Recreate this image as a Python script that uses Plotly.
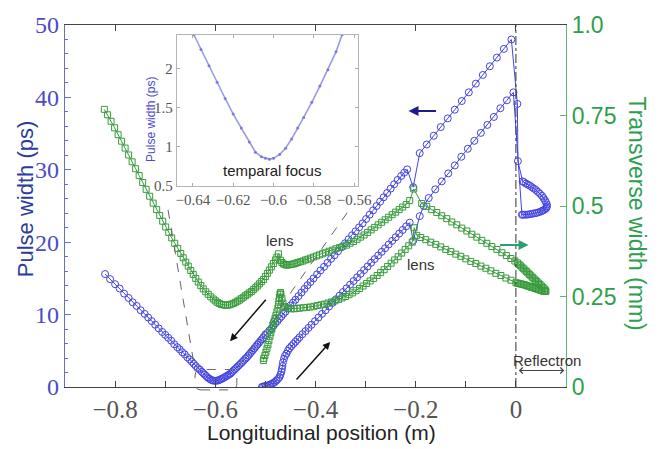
import plotly.graph_objects as go

# ---------------- data ----------------
# Pulse width (ps) - blue circles, left axis
pw_left_x = [-0.820,-0.810,-0.800,-0.791,-0.782,-0.773,-0.765,-0.757,-0.749,-0.741,-0.734,-0.727,-0.720,-0.713,-0.706,-0.700,-0.694,-0.688,-0.682,-0.676,-0.671,-0.666,-0.661,-0.656,-0.651,-0.647,-0.643,-0.639,-0.635,-0.631,-0.627,-0.624,-0.621,-0.618,-0.615,-0.612,-0.609,-0.606,-0.603,-0.600]
pw_left_y = [15.6,14.9,14.2,13.6,12.9,12.3,11.7,11.2,10.6,10.1,9.6,9.1,8.6,8.1,7.6,7.2,6.8,6.4,5.9,5.5,5.2,4.8,4.5,4.1,3.8,3.5,3.2,2.9,2.6,2.4,2.1,1.9,1.7,1.5,1.3,1.15,1.0,0.92,0.87,0.85]

pw_rise_x = [-0.597,-0.594,-0.591,-0.588,-0.585,-0.582,-0.579,-0.576,-0.573,-0.570,-0.567,-0.564,-0.561,-0.558,-0.555,-0.552,-0.549,-0.546,-0.543,-0.540,-0.537,-0.534,-0.531,-0.528,-0.525,-0.522,-0.519,-0.516,-0.513,-0.510,-0.507,-0.504,-0.500,-0.496,-0.492,-0.488,-0.484,-0.480,-0.476,-0.472,-0.468,-0.464,-0.460,-0.455,-0.450,-0.445,-0.440,-0.434,-0.428,-0.422,-0.416,-0.410,-0.404,-0.397,-0.390,-0.383,-0.376,-0.369,-0.362,-0.355,-0.348,-0.341,-0.334,-0.327,-0.320,-0.313,-0.306,-0.299,-0.292,-0.285,-0.278,-0.271,-0.264,-0.257,-0.250,-0.243,-0.236,-0.229,-0.223,-0.217]
pw_rise_y = [0.87,0.92,1.0,1.1,1.2,1.32,1.45,1.58,1.7,1.84,2.05,2.25,2.45,2.65,2.85,3.05,3.25,3.45,3.68,3.9,4.1,4.35,4.6,4.85,5.1,5.35,5.6,5.85,6.1,6.35,6.6,6.8,7.15,7.45,7.8,8.1,8.45,8.8,9.1,9.45,9.75,10.1,10.4,10.85,11.25,11.65,12.05,12.55,13.05,13.55,14.05,14.5,15.0,15.55,16.1,16.6,17.15,17.7,18.2,18.75,19.3,19.85,20.4,20.95,21.5,22.05,22.6,23.2,23.8,24.4,25.0,25.6,26.2,26.8,27.4,28.0,28.6,29.15,29.6,30.06]

pw_lens_x = [-0.205,-0.192]
pw_lens_y = [27.6,32.3]

pw_upper_x = [-0.178,-0.164,-0.150,-0.136,-0.122,-0.108,-0.094,-0.080,-0.066,-0.052,-0.038,-0.024,-0.009]
pw_upper_y = [33.5,34.7,35.9,37.1,38.3,39.5,40.7,41.9,43.1,44.3,45.5,46.7,48.0]

pw_refl_x = [0.003,0.004,0.0135,0.016,0.020,0.024,0.028,0.032,0.036,0.040,0.044,0.048,0.052,0.055,0.058,0.060,0.062,0.062,0.061,0.059,0.056,0.053,0.050,0.046,0.042,0.038,0.034,0.030,0.026,0.022,0.018,0.014,0.012]
pw_refl_y = [39.1,31.2,28.4,28.3,28.1,27.95,27.8,27.6,27.4,27.2,26.95,26.7,26.4,26.1,25.8,25.5,25.2,24.95,24.75,24.6,24.45,24.35,24.25,24.15,24.05,24.0,23.95,23.9,23.85,23.8,23.8,23.8,23.8]

pw_back_x = [-0.005,-0.018,-0.031,-0.044,-0.057,-0.070,-0.083,-0.096,-0.109,-0.122,-0.135,-0.148,-0.161,-0.174,-0.184,-0.192,-0.205,-0.212,-0.219,-0.226,-0.233,-0.240,-0.247,-0.254,-0.261,-0.268,-0.275,-0.282,-0.289,-0.296,-0.303,-0.310,-0.317,-0.324,-0.331,-0.338,-0.345,-0.352,-0.359,-0.366,-0.373,-0.380,-0.387,-0.394,-0.401,-0.408,-0.414,-0.420,-0.426,-0.432,-0.436,-0.440,-0.444,-0.448,-0.452,-0.455,-0.458,-0.461,-0.463,-0.465,-0.466,-0.467,-0.468,-0.470,-0.472,-0.475,-0.478,-0.481,-0.484,-0.487,-0.490,-0.493,-0.496,-0.499,-0.502,-0.505,-0.507]
pw_back_y = [40.7,39.6,38.5,37.3,36.2,35.1,34.0,32.9,31.8,30.6,29.5,28.4,27.3,26.1,25.0,23.6,20.2,22.7,22.2,21.69,21.19,20.68,20.18,19.68,19.17,18.67,18.16,17.66,17.16,16.65,16.15,15.64,15.14,14.64,14.13,13.63,13.12,12.62,12.12,11.61,11.11,10.6,10.1,9.6,9.09,8.59,8.16,7.72,7.29,6.86,6.55,6.25,5.95,5.65,5.35,5.0,4.6,4.3,3.9,3.4,2.9,2.5,2.1,1.7,1.35,1.1,0.9,0.7,0.55,0.45,0.35,0.25,0.2,0.15,0.1,0.05,0.0]

# Transverse width (mm) - green squares, right axis
tw_down_x = [-0.8215,-0.815,-0.808,-0.801,-0.794,-0.787,-0.780,-0.773,-0.766,-0.759,-0.752,-0.745,-0.738,-0.731,-0.724,-0.717,-0.711,-0.705,-0.699,-0.693,-0.687,-0.681,-0.675,-0.669,-0.664,-0.659,-0.654,-0.649,-0.644,-0.639,-0.634,-0.629,-0.624,-0.619,-0.614,-0.609,-0.604,-0.600,-0.596,-0.592,-0.588,-0.584,-0.580,-0.576,-0.572,-0.568,-0.564,-0.560,-0.556,-0.552,-0.548,-0.544,-0.540,-0.536,-0.532,-0.528,-0.524,-0.520,-0.516,-0.512,-0.508,-0.504,-0.500,-0.496,-0.492,-0.488,-0.484,-0.480,-0.477,-0.474]
tw_down_y = [0.767,0.752,0.734,0.716,0.697,0.679,0.660,0.641,0.622,0.603,0.584,0.565,0.546,0.527,0.508,0.490,0.474,0.458,0.442,0.427,0.412,0.397,0.383,0.369,0.357,0.345,0.334,0.322,0.311,0.300,0.290,0.280,0.271,0.263,0.256,0.249,0.243,0.238,0.234,0.231,0.228,0.227,0.226,0.226,0.227,0.229,0.231,0.234,0.237,0.240,0.244,0.248,0.252,0.256,0.260,0.264,0.269,0.274,0.279,0.285,0.291,0.297,0.305,0.314,0.323,0.332,0.341,0.351,0.359,0.368]

tw_mid_x = [-0.470,-0.467,-0.464,-0.461,-0.458,-0.455,-0.451,-0.447,-0.443,-0.439,-0.435,-0.430,-0.425,-0.420,-0.415,-0.410,-0.404,-0.398,-0.392,-0.386,-0.380,-0.373,-0.366,-0.359,-0.352,-0.345,-0.338,-0.331,-0.324,-0.317,-0.310,-0.303,-0.296,-0.289,-0.282,-0.275,-0.268,-0.261,-0.254,-0.247,-0.240,-0.233,-0.226,-0.219,-0.212,-0.204]
tw_mid_y = [0.350,0.344,0.340,0.338,0.337,0.337,0.338,0.339,0.340,0.342,0.344,0.346,0.348,0.351,0.353,0.356,0.359,0.362,0.365,0.368,0.371,0.375,0.378,0.382,0.385,0.389,0.392,0.397,0.402,0.408,0.414,0.420,0.427,0.434,0.441,0.448,0.455,0.462,0.469,0.476,0.483,0.490,0.497,0.504,0.515,0.547]

tw_fall_x = [-0.188,-0.178,-0.168,-0.158,-0.148,-0.138,-0.128,-0.118,-0.108,-0.098,-0.088,-0.078,-0.068,-0.058,-0.048,-0.038,-0.028,-0.019,-0.010,-0.002]
tw_fall_y = [0.507,0.499,0.490,0.482,0.473,0.465,0.456,0.448,0.439,0.431,0.422,0.414,0.405,0.397,0.388,0.380,0.371,0.363,0.355,0.348]

tw_refl_x = [0.003,0.006,0.009,0.012,0.015,0.018,0.021,0.024,0.027,0.030,0.033,0.036,0.039,0.042,0.045,0.048,0.051,0.054,0.057,0.059,0.060,
             0.057,0.054,0.051,0.048,0.045,0.042,0.039,0.036,0.033,0.030,0.027,0.024,0.021,0.018,0.015,0.012,0.009,0.006,0.003,0.000]
tw_refl_y = [0.343,0.339,0.335,0.331,0.327,0.323,0.319,0.315,0.311,0.307,0.303,0.299,0.295,0.291,0.287,0.283,0.279,0.275,0.271,0.267,0.264,
             0.264,0.265,0.267,0.268,0.269,0.271,0.272,0.274,0.275,0.276,0.278,0.279,0.280,0.282,0.283,0.284,0.285,0.286,0.287,0.288]

tw_back_x = [-0.010,-0.020,-0.030,-0.040,-0.050,-0.060,-0.070,-0.080,-0.090,-0.100,-0.110,-0.120,-0.130,-0.140,-0.150,-0.160,-0.170,-0.180,-0.190,-0.198,-0.203,-0.207,-0.214,-0.221,-0.228,-0.235,-0.242,-0.249,-0.256,-0.263,-0.270,-0.277,-0.284,-0.291,-0.298,-0.305,-0.312,-0.319,-0.326,-0.333,-0.340,-0.347,-0.354,-0.361,-0.368,-0.375,-0.382,-0.389,-0.396,-0.403,-0.410,-0.417,-0.424,-0.431,-0.437,-0.443,-0.449,-0.454,-0.459,-0.463,-0.465,-0.467,-0.469,-0.470,-0.471,-0.472,-0.473,-0.474,-0.475,-0.477,-0.479,-0.481,-0.483,-0.485,-0.487,-0.489,-0.491,-0.493,-0.495,-0.497,-0.499,-0.501,-0.503,-0.504]
tw_back_y = [0.295,0.301,0.308,0.314,0.321,0.328,0.334,0.341,0.347,0.354,0.361,0.367,0.374,0.380,0.387,0.394,0.400,0.407,0.413,0.419,0.440,0.400,0.390,0.380,0.370,0.360,0.351,0.342,0.333,0.324,0.316,0.308,0.300,0.293,0.286,0.279,0.272,0.266,0.260,0.255,0.250,0.246,0.242,0.238,0.235,0.232,0.229,0.227,0.225,0.223,0.221,0.220,0.219,0.218,0.217,0.216,0.216,0.217,0.219,0.222,0.232,0.245,0.256,0.261,0.257,0.248,0.238,0.228,0.218,0.208,0.198,0.189,0.180,0.170,0.160,0.150,0.140,0.128,0.117,0.106,0.096,0.087,0.079,0.073]

# Inset: pulse width near the temporal focus
inset_x = [-0.6395,-0.636,-0.632,-0.628,-0.624,-0.620,-0.616,-0.612,-0.609,-0.606,-0.604,-0.602,-0.600,-0.597,-0.594,-0.591,-0.588,-0.585,-0.581,-0.577,-0.573,-0.569,-0.566]
inset_y = [2.44,2.25,2.04,1.83,1.62,1.42,1.24,1.06,0.93,0.87,0.85,0.84,0.85,0.90,0.98,1.10,1.24,1.375,1.57,1.78,1.99,2.22,2.44]

# tick labels
y2_tickvals = [0, 0.25, 0.5, 0.75, 1.0]
y2_ticktext = ["0", "0.25", "0.5", "0.75", "1.0"]
inset_xtickvals = [-0.64, -0.62, -0.60, -0.58, -0.56]
inset_xticktext = ["\u22120.64", "\u22120.62", "\u22120.6", "\u22120.58", "\u22120.56"]
inset_ytickvals = [0.5, 1.0, 1.5, 2.0]
inset_yticktext = ["0.5", "1", "1.5", "2"]

# ---------------- styling ----------------
SANS = "Liberation Sans, Arial, sans-serif"
SERIF = "Liberation Serif, Times New Roman, serif"
BLUE = "#4343e2"
GREEN = "#389c3c"
AXBLUE = "#6a6ad0"
AXGREEN = "#5db47c"

pw_x = pw_left_x + pw_rise_x + pw_lens_x + pw_upper_x + pw_refl_x + pw_back_x
pw_y = pw_left_y + pw_rise_y + pw_lens_y + pw_upper_y + pw_refl_y + pw_back_y
tw_x = tw_down_x + tw_mid_x + tw_fall_x + tw_refl_x + tw_back_x
tw_y = tw_down_y + tw_mid_y + tw_fall_y + tw_refl_y + tw_back_y

fig = go.Figure()
fig.add_trace(go.Scatter(
    x=tw_x, y=tw_y, xaxis="x", yaxis="y2", mode="lines+markers",
    line=dict(color=GREEN, width=1),
    marker=dict(symbol="square-open", size=6, color=GREEN, line=dict(width=1, color=GREEN)),
    hoverinfo="skip"))
fig.add_trace(go.Scatter(
    x=pw_x, y=pw_y, xaxis="x", yaxis="y", mode="lines+markers",
    line=dict(color=BLUE, width=1),
    marker=dict(symbol="circle-open", size=7, color=BLUE, line=dict(width=1, color=BLUE)),
    hoverinfo="skip"))
fig.add_trace(go.Scatter(
    x=inset_x, y=inset_y, xaxis="x3", yaxis="y3", mode="lines+markers",
    line=dict(color="#9a9ae8", width=1.6),
    marker=dict(symbol="circle", size=3, color="#7c7cdc"),
    hoverinfo="skip"))
# empty trace that carries the top tick axis
fig.add_trace(go.Scatter(x=[], y=[], xaxis="x4", yaxis="y", hoverinfo="skip"))

# pixel helpers for annotation placement (plot area: x 65..566, y 15..387)
def px(xp):
    return (xp - 65) / 500.7

def py(yp):
    return (387 - yp) / 372

x0r, x1r = -0.6404, -0.557
y0r, y1r = py(390), py(369)
rx, ry = 0.012, 0.018
rect_path = (f"M {x0r+rx},{y0r} L {x1r-rx},{y0r} Q {x1r},{y0r} {x1r},{y0r+ry} "
             f"L {x1r},{y1r-ry} Q {x1r},{y1r} {x1r-rx},{y1r} L {x0r+rx},{y1r} "
             f"Q {x0r},{y1r} {x0r},{y1r-ry} L {x0r},{y0r+ry} Q {x0r},{y0r} {x0r+rx},{y0r} Z")

shapes = [
    dict(type="line", xref="x", yref="paper", x0=0, x1=0, y0=0, y1=1,
         line=dict(color="#333333", width=1, dash="dashdot")),
    dict(type="line", xref="x", yref="y", x0=-0.6943, y0=24.46, x1=-0.6404, y1=2.28,
         line=dict(color="#666666", width=1, dash="dash")),
    dict(type="line", xref="x", yref="y", x0=-0.3368, y0=24.06, x1=-0.5565, y1=2.55,
         line=dict(color="#666666", width=1, dash="dash")),
    dict(type="path", xref="x", yref="paper", path=rect_path,
         line=dict(color="#666666", width=1, dash="dash")),
]

def label(text, x, y, size, color, angle=0, xref="paper", yref="paper"):
    return dict(text=text, xref=xref, yref=yref, x=x, y=y, textangle=angle,
                xanchor="center", yanchor="middle", showarrow=False,
                font=dict(family=SANS, size=size, color=color))

def arrow(x, y, ax, ay, color, width, **kw):
    d = dict(text="", xref="x", yref="y", x=x, y=y, ax=ax, ay=ay, showarrow=True,
             arrowhead=2, arrowsize=1, arrowwidth=width, arrowcolor=color)
    d.update(kw)
    return d

annotations = [
    label("Pulse width (ps)", px(25), py(193), 22, "#2b3c9e", -90),
    label("Longitudinal position (m)", px(321), py(434), 21, "#222222"),
    label("Transverse width (mm)", px(637), py(209), 23, "#2ea050", 90),
    label("Pulse width (ps)", px(151.5), py(112), 12, "#4a4acf", -90),
    label("temparal focus", -0.4872, 29.84, 15, "#222222", xref="x", yref="y"),
    label("lens", -0.4706, 20.2, 15, "#333333", xref="x", yref="y"),
    label("lens", -0.19, 16.94, 15, "#333333", xref="x", yref="y"),
    label("Reflectron", 0.062, 3.72, 15, "#333333", xref="x", yref="y"),
    arrow(-0.2144, 38.13, 29, 0, "#1c1c8c", 2),
    arrow(0.0253, 19.6, -30, 0, "#2aa070", 2),
    arrow(-0.5705, 6.32, 37, -43, "#111111", 1.5),
    arrow(-0.3707, 6.22, -35, 39, "#111111", 1.5),
    arrow(0.0966, 2.28, -47, 0, "#444444", 1, arrowside="end+start", arrowhead=4,
          startarrowhead=4, arrowsize=1.2, startarrowsize=1.2),
]

fig.update_layout(
    width=665, height=449,
    margin=dict(l=65, r=99, t=15, b=62),
    paper_bgcolor="white", plot_bgcolor="white",
    showlegend=False,
    xaxis=dict(range=[-0.9, 0.1], tick0=0, dtick=0.2, ticks="inside", ticklen=6,
               tickcolor="#444444", showline=True, linecolor="#444444", linewidth=1.2,
               mirror=True, showgrid=False, zeroline=False,
               minor=dict(dtick=0.1, tick0=0, ticks="inside", ticklen=6, tickcolor="#444444"),
               tickfont=dict(family=SERIF, size=25, color="#555555")),
    xaxis4=dict(range=[-0.9, 0.1], overlaying="x", side="top", anchor="y",
                tick0=0, dtick=0.2, ticks="inside", ticklen=6, tickcolor="#444444",
                showticklabels=False, showline=False, showgrid=False, zeroline=False),
    yaxis=dict(range=[0, 50], tick0=0, dtick=10, ticks="inside", ticklen=6,
               tickcolor=AXBLUE, showline=True, linecolor=AXBLUE, linewidth=1.2,
               showgrid=False, zeroline=False,
               minor=dict(dtick=2, tick0=0, ticks="inside", ticklen=3, tickcolor=AXBLUE),
               tickfont=dict(family=SERIF, size=24, color="#4b4bc8")),
    yaxis2=dict(range=[0, 1], overlaying="y", side="right", anchor="x",
                tickvals=y2_tickvals, ticktext=y2_ticktext, ticks="inside", ticklen=6,
                tickcolor=AXGREEN, showline=True, linecolor=AXGREEN, linewidth=1.2,
                showgrid=False, zeroline=False,
                tickfont=dict(family=SANS, size=23, color="#2ea04a")),
    xaxis3=dict(domain=[px(176.7), px(358)], anchor="y3", range=[-0.648, -0.558],
                tickvals=inset_xtickvals, ticktext=inset_xticktext, ticks="inside", ticklen=3,
                tickcolor="#aaaaaa", showline=True, linecolor="#b5b5b5", mirror="ticks",
                showgrid=False, zeroline=False,
                tickfont=dict(family=SERIF, size=15, color="#555555")),
    yaxis3=dict(domain=[py(180), py(25)], anchor="x3", range=[0.5, 2.44],
                tickvals=inset_ytickvals, ticktext=inset_yticktext, ticks="inside", ticklen=3,
                tickcolor="#aaaaaa", showline=True, linecolor="#b5b5b5", mirror="ticks",
                showgrid=False, zeroline=False,
                tickfont=dict(family=SERIF, size=15, color="#555555")),
    shapes=shapes,
    annotations=annotations,
)

fig.write_html("out.html")
